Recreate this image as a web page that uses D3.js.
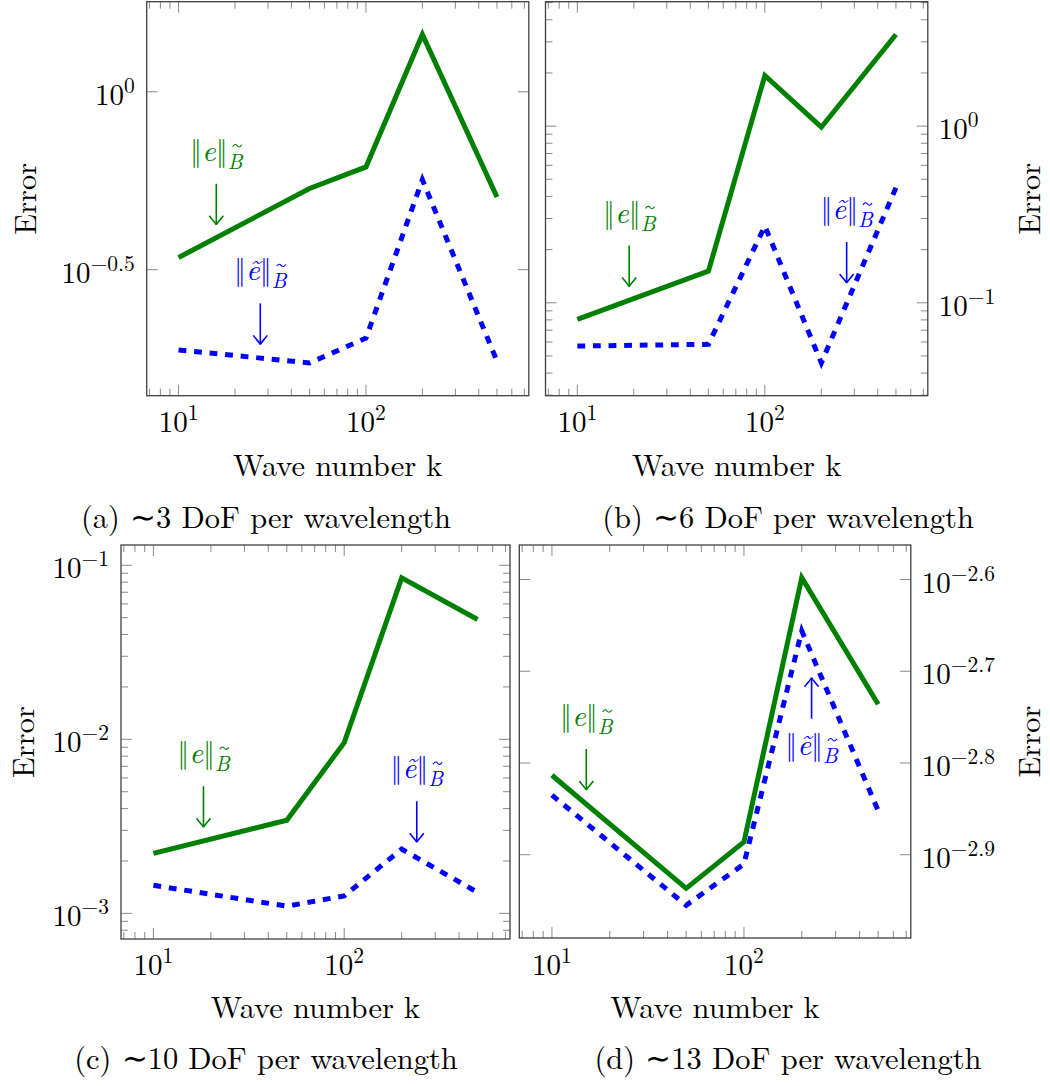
<!DOCTYPE html>
<html><head><meta charset="utf-8">
<script src="https://cdn.jsdelivr.net/npm/d3@7"></script>
<style>
body{margin:0;background:#fff}
svg{display:block}
</style>
</head><body>
<svg id="chart" width="1050" height="1086"></svg>
<script>
// ---------------- data ----------------
const kValues = [10, 50, 100, 200, 500];

const errA      = [0.342, 0.535, 0.615, 1.449, 0.506];
const errTildeA = [0.188, 0.173, 0.203, 0.566, 0.175];

const errB      = [0.0805, 0.151, 1.936, 0.986, 3.30];
const errTildeB = [0.0569, 0.0582, 0.272, 0.0457, 0.448];

const errC      = [0.00221, 0.00343, 0.00957, 0.0847, 0.0488];
const errTildeC = [0.00145, 0.00110, 0.00126, 0.00234, 0.00132];

const errD      = [0.001537, 0.001157, 0.00130, 0.002523, 0.001837];
const errTildeD = [0.001462, 0.001109, 0.00123, 0.002208, 0.001406];

const xTickExps  = [1, 2];
const yTickExpsA = [-0.5, 0];
const yTickExpsB = [-1, 0];
const yTickExpsC = [-3, -2, -1];
const yTickExpsD = [-2.9, -2.8, -2.7, -2.6];

const captions = ["(a) \u223C3 DoF per wavelength", "(b) \u223C6 DoF per wavelength",
                  "(c) \u223C10 DoF per wavelength", "(d) \u223C13 DoF per wavelength"];
const xLabel = "Wave number k";
const yLabel = "Error";

// annotation arrow tips in data coordinates: [k, error]
const annotE      = [[15.9, 0.423], [18.9, 0.1236], [18.3, 0.003126], [15.1, 0.001481]];
const annotETilde = [[27.3, 0.195], [273, 0.1294], [240, 0.002564], [225, 0.001963]];
const annotETildeDir = ["down", "down", "down", "up"];

// ---------------- layout ----------------
const panels = [
  {box:[146.7, 528.8, 1.7, 395.7], e: errA, et: errTildeA, yt: yTickExpsA, minorY:false, side:"left",
   capY:528, xlY:476, tlY:431.7, ylabX:35.7},
  {box:[545.5, 927.8, 1.7, 395.7], e: errB, et: errTildeB, yt: yTickExpsB, minorY:true, side:"right",
   capY:528, xlY:476, tlY:431.7, ylabX:1040},
  {box:[121, 510, 545, 939], e: errC, et: errTildeC, yt: yTickExpsC, minorY:true, side:"left",
   capY:1069, xlY:1018, tlY:975, ylabX:34},
  {box:[519.3, 910.8, 545, 938], e: errD, et: errTildeD, yt: yTickExpsD, minorY:false, side:"right",
   capY:1069, xlY:1018, tlY:975, ylabX:1040}
];

const GREEN = "#008000", BLUE = "#0000ff";
const FONT = '"Latin Modern Roman", "Liberation Serif", serif';
const svg = d3.select("#chart");

function txt(g) { return g.append("text").style("font-family", FONT); }

function logDomain(vals) {
  const lo = Math.log10(d3.min(vals)), hi = Math.log10(d3.max(vals));
  const pad = (hi - lo) * 0.1;
  return [Math.pow(10, lo - pad), Math.pow(10, hi + pad)];
}
function expText(e) { return e < 0 ? "\u2212" + Math.abs(e) : String(e); }

function powLabel(g, x, y, e, anchor) {
  const t = txt(g).attr("x", x).attr("y", y).attr("text-anchor", anchor)
    .attr("font-size", 29).attr("fill", "#000");
  t.append("tspan").text("10");
  t.append("tspan").attr("font-size", 21.5).attr("dy", -12).text(expText(e));
  return t;
}

function normLabel(g, x, y, tilde, color) {
  const t = txt(g).attr("x", x).attr("y", y).attr("text-anchor", "middle")
    .attr("font-size", 30).attr("fill", color);
  t.append("tspan").text("\u2016");
  t.append("tspan").attr("font-style", "italic").text(tilde ? "\u1EBD" : "e");
  t.append("tspan").text("\u2016");
  t.append("tspan").attr("font-style", "italic").attr("font-size", 21).attr("dy", 8).text("B");
  // tilde accent over the subscript B
  const ext = t.node().getExtentOfChar(3);
  const cx = ext.x + ext.width / 2 + 2, ty = ext.y + 1;
  g.append("path")
    .attr("d", `M${cx-4.5},${ty+1} C${cx-3},${ty-2} ${cx-1},${ty-1.5} ${cx},${ty} S${cx+3},${ty+2} ${cx+4.5},${ty-1}`)
    .attr("fill", "none").attr("stroke", color).attr("stroke-width", 1.1);
}

function arrow(g, ax, tipY, dir, color) {
  const len = 41, s = dir === "down" ? 1 : -1;
  g.append("line").attr("x1", ax).attr("x2", ax).attr("y1", tipY - s * len).attr("y2", tipY)
    .attr("stroke", color).attr("stroke-width", 1.6);
  g.append("path")
    .attr("d", `M${ax-7},${tipY - s*9} C${ax-4},${tipY - s*5} ${ax-1},${tipY - s*2} ${ax},${tipY}` +
               ` M${ax+7},${tipY - s*9} C${ax+4},${tipY - s*5} ${ax+1},${tipY - s*2} ${ax},${tipY}`)
    .attr("fill", "none").attr("stroke", color).attr("stroke-width", 1.6);
}

panels.forEach((p, i) => {
  const [L, R, T, B] = p.box;
  const g = svg.append("g");
  const x = d3.scaleLog().domain(logDomain(kValues)).range([L, R]);
  const y = d3.scaleLog().domain(logDomain(p.e.concat(p.et))).range([B, T]);

  // ticks
  const tickG = g.append("g").attr("stroke", "#8a8a8a").attr("stroke-width", 1);
  const majorX = xTickExps.map(e => Math.pow(10, e));
  x.ticks().forEach(v => {
    const isMajor = majorX.some(m => Math.abs(m - v) < 1e-9);
    const len = isMajor ? 11 : 7, px = x(v);
    if (px < L + 0.5 || px > R - 0.5) return;
    tickG.append("line").attr("x1", px).attr("x2", px).attr("y1", B).attr("y2", B - len);
    tickG.append("line").attr("x1", px).attr("x2", px).attr("y1", T).attr("y2", T + len);
  });
  const majorY = p.yt.map(e => Math.pow(10, e));
  let yTicks = majorY.map(v => ({v, major:true}));
  if (p.minorY) {
    yTicks = y.ticks().map(v => ({v, major: majorY.some(m => Math.abs(Math.log10(m) - Math.log10(v)) < 1e-9)}));
  }
  yTicks.forEach(({v, major}) => {
    const py = y(v), len = major ? 11 : 7;
    if (py < T + 0.5 || py > B - 0.5) return;
    tickG.append("line").attr("x1", L).attr("x2", L + len).attr("y1", py).attr("y2", py);
    tickG.append("line").attr("x1", R).attr("x2", R - len).attr("y1", py).attr("y2", py);
  });

  // box
  g.append("rect").attr("x", L).attr("y", T).attr("width", R - L).attr("height", B - T)
    .attr("fill", "none").attr("stroke", "#404040").attr("stroke-width", 1.3);

  // x tick labels
  xTickExps.forEach(e => powLabel(g, x(Math.pow(10, e)), p.tlY, e, "middle"));
  // y tick labels
  p.yt.forEach(e => {
    const py = y(Math.pow(10, e)) + 13;
    if (p.side === "left") powLabel(g, L - 12, py, e, "end");
    else powLabel(g, R + 11, py, e, "start");
  });

  // lines
  const line = d3.line().x(d => x(d[0])).y(d => y(d[1]));
  g.append("path").datum(d3.zip(kValues, p.e)).attr("d", line)
    .attr("fill", "none").attr("stroke", GREEN).attr("stroke-width", 5)
    .attr("stroke-linejoin", "miter").attr("stroke-miterlimit", 10);
  g.append("path").datum(d3.zip(kValues, p.et)).attr("d", line)
    .attr("fill", "none").attr("stroke", BLUE).attr("stroke-width", 5)
    .attr("stroke-dasharray", "7.8,7.8")
    .attr("stroke-linejoin", "miter").attr("stroke-miterlimit", 10);

  // annotations
  const [gk, ge] = annotE[i];
  const gx = x(gk), gy = y(ge);
  arrow(g, gx, gy, "down", GREEN);
  normLabel(g, gx, gy - 41 - 23, false, GREEN);
  const [bk, be] = annotETilde[i];
  const bx = x(bk), by = y(be);
  const dir = annotETildeDir[i];
  arrow(g, bx, by, dir, BLUE);
  if (dir === "down") normLabel(g, bx, by - 41 - 23, true, BLUE);
  else normLabel(g, bx, by + 41 + 36, true, BLUE);

  // axis labels
  txt(g).attr("x", (L + R) / 2).attr("y", p.xlY).attr("text-anchor", "middle")
    .attr("font-size", 30.5).text(xLabel);
  const cy = (T + B) / 2;
  txt(g).attr("transform", `translate(${p.ylabX},${cy}) rotate(-90)`)
    .attr("text-anchor", "middle").attr("font-size", 30.5).text(yLabel);

  // caption
  const capX = i % 2 === 0 ? 266 : 788;
  const parts = captions[i].split("\u223C");
  const c = txt(g).attr("x", capX).attr("y", p.capY).attr("text-anchor", "middle").attr("font-size", 30.5);
  c.append("tspan").text(parts[0]);
  c.append("tspan").style("font-family", '"Liberation Serif", serif').attr("font-size", 31).text("\u223C");
  c.append("tspan").text(parts[1]);
});
</script></body></html>
